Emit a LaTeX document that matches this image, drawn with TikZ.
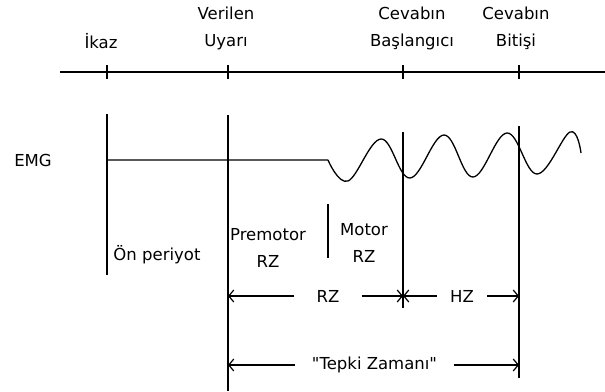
\documentclass[tikz,border=0pt]{standalone}
\usepackage{fontspec}
\setmainfont{DejaVu Sans}
\newfontfamily\qtfont{DejaVu Sans}
\usepackage{tikz}
\usetikzlibrary{positioning,arrows.meta}

\begin{document}
\begin{tikzpicture}[x=1pt, y=-1pt,
  lbl/.style={font=\fontsize{16.5}{27}\selectfont, inner sep=0pt, align=center},
  axline/.style={line width=1.3pt, black},
  tmark/.style={line width=1.3pt, black},
  dimarr/.style={line width=1.2pt, -{Straight Barb[length=5pt, width=12pt]}},
]
\useasboundingbox (0,0) rectangle (605,391);
% Time axis
\coordinate (ax0) at (60,72);
\coordinate (ax1) at (605,72);
\draw[axline] (ax0) -- (ax1);
\foreach \x in {107,228,403,519}
  \draw[axline] (\x,65) -- (\x,79);
% Top labels
\node[lbl] (ikaz) at (101,41) {İkaz};
\node[lbl] (uyari) at (226,28) {Verilen\\Uyarı};
\node[lbl] (basla) at (412,28) {Cevabın\\Başlangıcı};
\node[lbl] (bitis) at (516,28) {Cevabın\\Bitişi};
% Event lines
\draw[tmark] (107,114) -- (107,275);
\draw[tmark] (228,115) -- (228,391);
\draw[tmark] (403,132) -- (403,308);
\draw[tmark] (519,126) -- (519,378);
\draw[tmark] (328,204) -- (328,258);
% EMG trace
\node[lbl] (emg) at (33,160) {EMG};
\draw[tmark] (107,160) -- (328,160)
  plot[smooth, tension=0.65] coordinates {(328,160) (348,181) (381,139) (410,178)
    (444,135) (473,177) (507,133) (537,174) (570,132) (581,153)};
% Period labels
\node[lbl] (onper) at (157,255) {Ön periyot};
\node[lbl] (premot) at (268,248) {Premotor\\RZ};
\node[lbl] (motor) at (364,243) {Motor\\RZ};
% Dimension arrows
\coordinate (rzL) at (228,296); \coordinate (rzR) at (403,296);
\coordinate (hzR) at (519,296);
\coordinate (tzL) at (228,365); \coordinate (tzR) at (519,365);
\node[lbl, inner xsep=22pt] (rz) at (328,296) {RZ};
\node[lbl, inner xsep=13pt] (hz) at (462,296) {HZ};
\node[lbl, inner xsep=17pt] (tz) at (374.5,365) {\qtfont "Tepki Zamanı"};
\draw[dimarr] (rz) -- (rzL); \draw[dimarr] (rz) -- (rzR);
\draw[dimarr] (hz) -- (rzR); \draw[dimarr] (hz) -- (hzR);
\draw[dimarr] (tz) -- (tzL); \draw[dimarr] (tz) -- (tzR);
\end{tikzpicture}
\end{document}
